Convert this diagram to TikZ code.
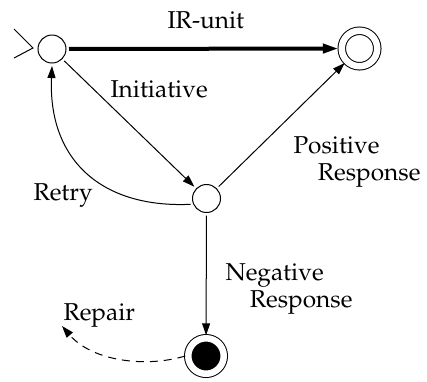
\documentclass[tikz,border=0pt]{standalone}
\usepackage[T1]{fontenc}
\usepackage{mathpazo}
\usetikzlibrary{arrows.meta}

\begin{document}
\begin{tikzpicture}[x=0.5pt, y=-0.5pt, line width=0.5pt,
  state/.style={draw, circle, minimum size=14pt, inner sep=0pt, outer sep=1.5pt},
  final/.style={state, minimum size=17.75pt, double, double distance=3.25pt},
  lbl/.style={inner sep=0pt, anchor=base west, align=left, font=\fontsize{12.2}{13.5}\selectfont},
  tip/.style={-{Triangle[length=6pt, width=4pt]}}]
\useasboundingbox (0,0) rectangle (427,381);
\node[state] (s0) at (52,49) {};
\node[final] (acc) at (359.5,48.5) {};
\node[state] (s1) at (206.5,198.5) {};
\node[final, fill=black] (err) at (206,356) {};
\coordinate (rep) at (62,326);
% entry mark
\draw (14,29) -- (33,48) -- (14,58);
\draw[line width=2pt, -{Triangle[length=8pt, width=4.5pt]}] (s0) -- (acc);
\draw[tip] (s0) -- (s1);
\draw[tip] (s1) -- (acc);
\draw[tip] (s1) -- (err);
\draw[tip] (s1.200) .. controls +(-90,4) and +(-4,93) .. (s0.south);
\draw[tip, dash pattern=on 4pt off 3pt] (err.west) .. controls +(-40,12) and +(30,35) .. (rep);
\node[lbl] (lir) at (167,28) {IR-unit};
\node[lbl] (lini) at (110,97) {Initiative};
% base of a two-line label is its last line
\node[lbl] (lpos) at (293,180) {Positive\\\quad Response};
\node[lbl] (lneg) at (225,307) {Negative\\\quad Response};
\node[lbl] (lret) at (33,200) {Retry};
\node[lbl] (lrep) at (63,320) {Repair};
\end{tikzpicture}
\end{document}
